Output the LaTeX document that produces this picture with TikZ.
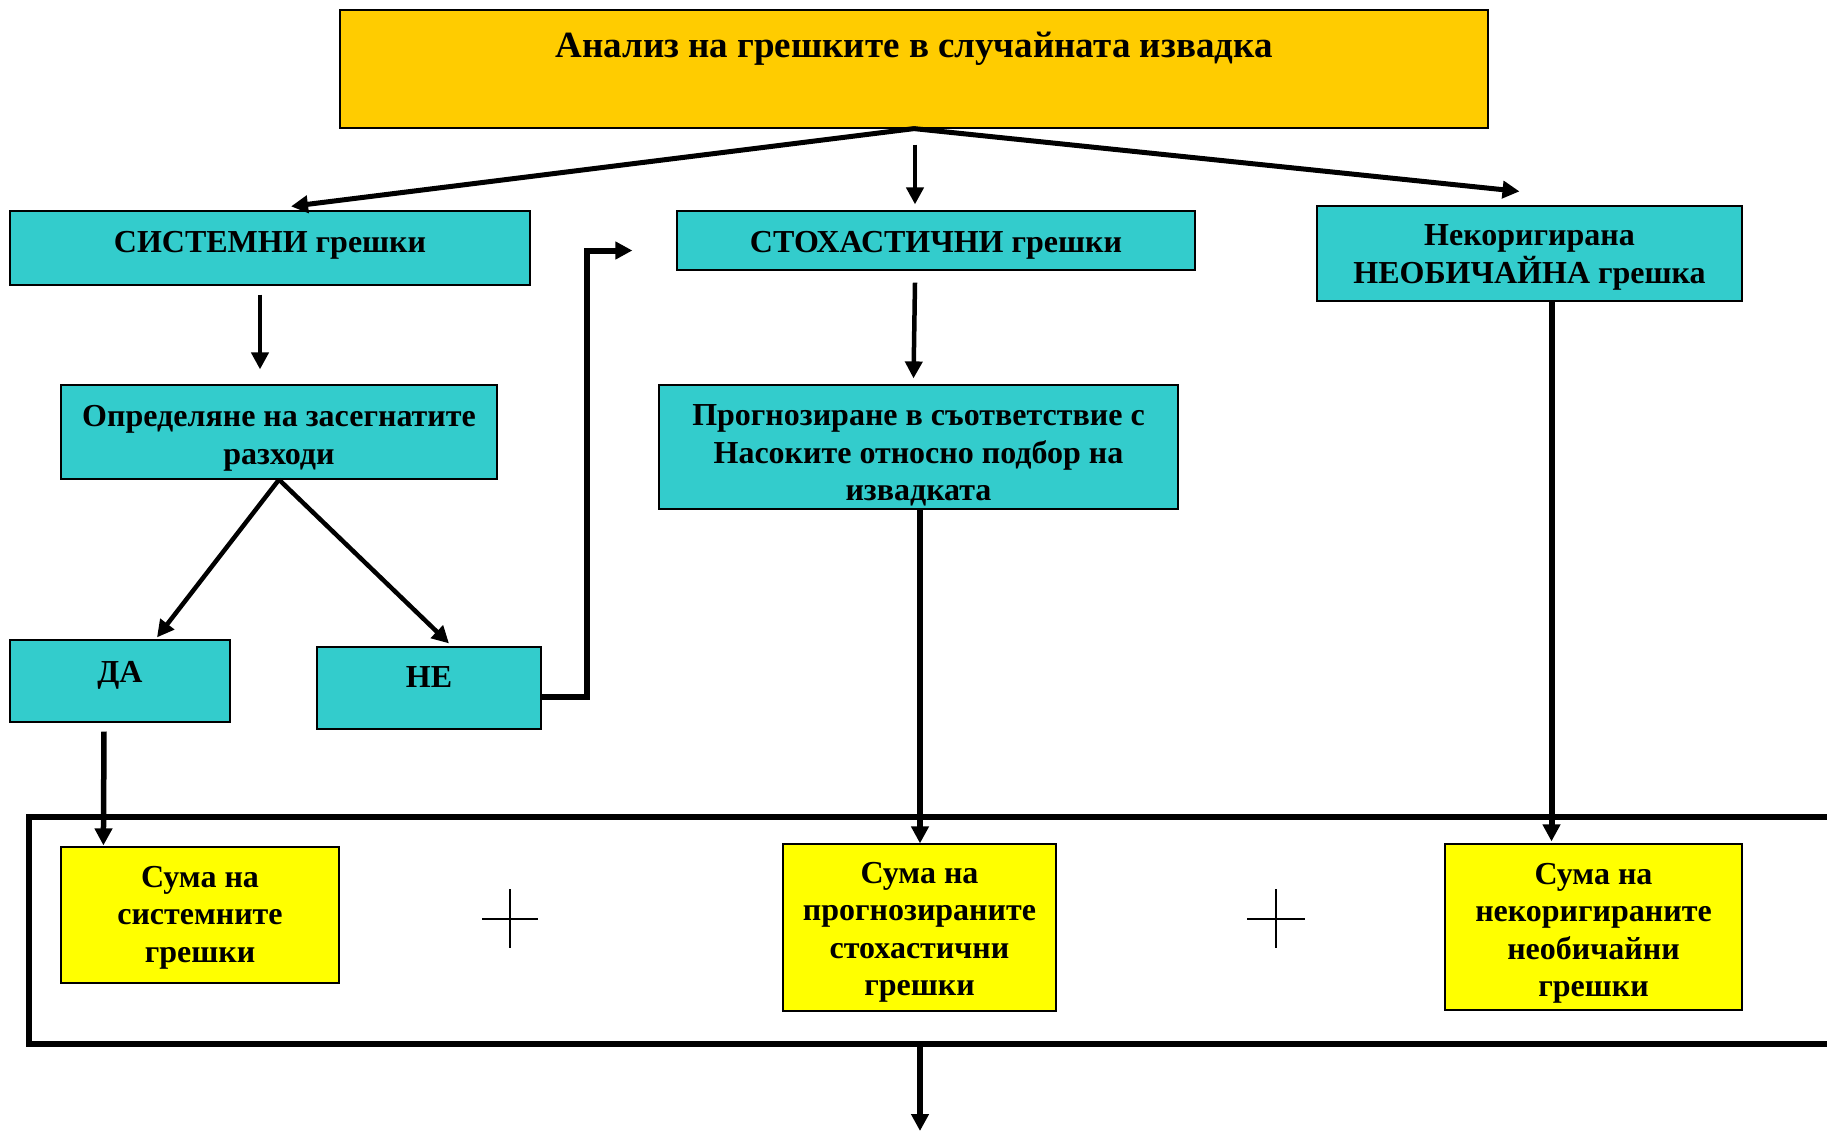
\documentclass[tikz,border=0pt]{standalone}
\usepackage{fontspec}
\setmainfont{Liberation Serif}
\usetikzlibrary{arrows.meta,calc}
\definecolor{goldbox}{HTML}{FFCC00}
\definecolor{cyanbox}{HTML}{33CCCC}
\definecolor{yelbox}{HTML}{FFFF00}
\begin{document}
\begin{tikzpicture}[x=1pt,y=-1pt,
  box/.style={draw=black, line width=1.2pt, inner sep=0pt},
  cbox/.style={box, fill=cyanbox},
  ybox/.style={box, fill=yelbox},
  txt/.style={inner sep=0pt, align=center, font=\bfseries\fontsize{32}{37.5}\selectfont},
  arr/.style={line width=#1, -{Triangle[length=17pt,width=17pt]}},
  arr/.default=5pt,
  plusline/.style={line width=1.3pt},
  frame/.style={draw=black, line width=5.5pt, inner sep=0pt},
]
\clip (0,0) rectangle (1827,1133);
\fill[white] (0,0) rectangle (1827,1133);

% boxes
\node[box, fill=goldbox, minimum width=1148pt, minimum height=118pt] (top) at (914,69) {};
\node[cbox, minimum width=520pt, minimum height=74pt] (sys) at (270,248) {};
\node[cbox, minimum width=518pt, minimum height=59pt] (stoch) at (936,240.5) {};
\node[cbox, minimum width=425pt, minimum height=95pt] (nek) at (1529.5,253.5) {};
\node[cbox, minimum width=436pt, minimum height=94pt] (opr) at (279,432) {};
\node[cbox, minimum width=519pt, minimum height=124pt] (prog) at (918.5,447) {};
\node[cbox, minimum width=220pt, minimum height=82pt] (da) at (120,681) {};
\node[cbox, minimum width=224pt, minimum height=82pt] (ne) at (429,688) {};

\node[frame, minimum width=1814pt, minimum height=227pt, anchor=north west]
  (sumframe) at (26,814) {};

\node[ybox, minimum width=278pt, minimum height=136pt] (sumsys) at (200,915) {};
\node[ybox, minimum width=273pt, minimum height=167pt] (sumprog) at (919.5,927.5) {};
\node[ybox, minimum width=297pt, minimum height=166pt] (sumnek) at (1593.5,927) {};

% texts
\node[txt, font=\bfseries\fontsize{37}{42}\selectfont] (toptxt) at ($(top.center)+(0,-20)$)
  {Анализ на грешките в случайната извадка};
\node[txt] (systxt) at ($(sys.center)+(0,-3)$) {СИСТЕМНИ грешки};
\node[txt] (stochtxt) at ($(stoch.center)+(0,4.5)$) {СТОХАСТИЧНИ грешки};
\node[txt] (nektxt) at ($(nek.center)+(0,4)$) {Некоригирана\\НЕОБИЧАЙНА грешка};
\node[txt] (oprtxt) at ($(opr.center)+(0,6.5)$) {Определяне на засегнатите\\разходи};
\node[txt] (progtxt) at ($(prog.center)+(0,8.5)$)
  {Прогнозиране в съответствие с\\Насоките относно подбор на\\извадката};
\node[txt] (datxt) at ($(da.center)+(0,-6)$) {ДА};
\node[txt] (netxt) at ($(ne.center)+(0,-10.5)$) {НЕ};
\node[txt] (sumsystxt) at ($(sumsys.center)+(0,2.5)$) {Сума на\\системните\\грешки};
\node[txt] (sumprogtxt) at ($(sumprog.center)+(0,5)$) {Сума на\\прогнозираните\\стохастични\\грешки};
\node[txt] (sumnektxt) at ($(sumnek.center)+(0,6.5)$) {Сума на\\некоригираните\\необичайни\\грешки};

% plus signs
\draw[plusline] (482,919) -- (538,919) (510,889) -- (510,948);
\draw[plusline] (1247,919) -- (1305,919) (1276,889) -- (1276,948);

% connectors
\draw[arr=5pt] (top.south) -- ($(sys.north)+(21,-4)$);
\draw[arr=4.5pt] ($(top.south)+(1,16)$) -- ($(top.south |- stoch.north)+(1,-6)$);
\draw[arr=5pt] (top.south) -- ($(nek.north)+(-10,-14)$);
\draw[arr=4.5pt] ($(sys.south)+(-10,9)$) -- ($(opr.north)+(-19,-15)$);
\draw[arr=4.5pt] ($(stoch.south)+(-21,12)$) -- ($(prog.north)+(-5,-6)$);
\draw[arr=4.5pt] (opr.south) -- ($(da.north)+(37,-2)$);
\draw[arr=4.5pt] (opr.south) -- ($(ne.north)+(20,-3)$);
\draw[arr=6pt] ($(ne.east)+(0,9)$) -- ++(45,0) |- ($(stoch.west)+(-44,10)$);
\draw[arr=5.5pt] ($(da.south)+(-16,9)$) -- ($(sumsys.north west)+(43,-1)$);
\draw[arr=6pt] ($(prog.south)+(1.5,0)$) -- ($(prog.south |- sumprog.north)+(1.5,0)$);
\coordinate (nekout) at ($(nek.south)+(22,0)$);
\draw[arr=6pt] (nekout) -- ($(nekout |- sumnek.north)+(0,-2)$);
\coordinate (finalend) at (920,1131);
\draw[arr=6pt] (finalend |- sumframe.south) -- (finalend);
\end{tikzpicture}
\end{document}
